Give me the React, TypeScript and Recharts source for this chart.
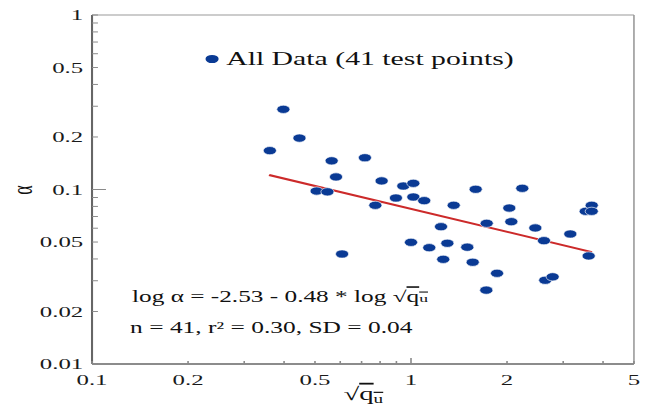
import React from "react";
import { ScatterChart, Scatter, XAxis, YAxis, ReferenceLine } from "recharts";

// Measured data: sqrt(q_u) vs alpha (log-log)
const sqrtQu = [
  0.361, 0.398, 0.447, 0.506, 0.547, 0.564, 0.582, 0.608, 0.717, 0.773,
  0.809, 0.897, 0.946, 1.0, 1.017, 1.017, 1.1, 1.141, 1.242, 1.262,
  1.3, 1.361, 1.501, 1.561, 1.595, 1.722, 1.727, 1.861, 2.033, 2.063,
  2.233, 2.453, 2.611, 2.636, 2.78, 3.158, 3.53, 3.606, 3.686, 3.686,
];
const alpha = [
  0.167, 0.288, 0.197, 0.098, 0.097, 0.146, 0.118, 0.0427, 0.152, 0.0812,
  0.112, 0.0894, 0.1047, 0.0498, 0.1085, 0.0906, 0.0863, 0.0464, 0.0612, 0.0398,
  0.0492, 0.0812, 0.0467, 0.0383, 0.1003, 0.0265, 0.064, 0.0331, 0.0783, 0.0654,
  0.1016, 0.0602, 0.0509, 0.0302, 0.0316, 0.0556, 0.075, 0.0416, 0.0812, 0.075,
];

// Fitted trend line end points
const fitX = [0.359, 3.69];
const fitY = [0.121, 0.0438];

const xTicks = [0.1, 0.2, 0.3, 0.4, 0.5, 0.6, 0.7, 0.8, 0.9, 1, 2, 3, 4, 5];
const xLabels = [0.1, 0.2, 0.5, 1, 2, 5];
const yTicks = [
  0.01, 0.02, 0.03, 0.04, 0.05, 0.06, 0.07, 0.08, 0.09,
  0.1, 0.2, 0.3, 0.4, 0.5, 0.6, 0.7, 0.8, 0.9, 1,
];
const yLabels = [0.01, 0.02, 0.05, 0.1, 0.2, 0.5, 1];

const points = sqrtQu.map((x, i) => ({ x, y: alpha[i] }));

const W = 403;
const H = 414;
const STRETCH = 645 / W;
const PL = 57.5;
const PT = 15;
const PB = 364;
const FONT = "'Liberation Serif', 'Times New Roman', serif";
const DOT = "#0a3a94";

const YTick = (props: any) => {
  const { y, payload } = props;
  const v = payload.value;
  const len = v === 0.1 ? 8.7 : 3.7;
  return (
    <g>
      <line x1={PL} x2={PL + len} y1={y} y2={y} stroke="#8a8a8a" strokeWidth={1} />
      {yLabels.includes(v) && (
        <text x={52} y={y} dy="0.35em" textAnchor="end" fontFamily={FONT} fontSize={15.5} fill="#1a1a1a">
          {String(v)}
        </text>
      )}
    </g>
  );
};

const XTick = (props: any) => {
  const { x, payload } = props;
  const v = payload.value;
  const len = v === 1 ? 6 : 3;
  return (
    <g>
      <line x1={x} x2={x} y1={PB} y2={PB - len} stroke="#8a8a8a" strokeWidth={1} />
      {xLabels.includes(v) && (
        <text x={x} y={385} textAnchor="middle" fontFamily={FONT} fontSize={15.5} fill="#1a1a1a">
          {String(v)}
        </text>
      )}
    </g>
  );
};

const Dot = (props: any) => {
  const { cx, cy } = props;
  return <circle cx={cx} cy={cy} r={4.1} fill={DOT} stroke="#ffffff" strokeWidth={0.5} />;
};

export default function App() {
  return (
    <div
      style={{
        position: "absolute",
        left: 0,
        top: 0,
        width: W,
        height: H,
        transform: `scaleX(${STRETCH})`,
        transformOrigin: "0 0",
        background: "#fff",
      }}
    >
      <ScatterChart width={W} height={H} margin={{ top: PT, right: 6.9, bottom: 0, left: 0 }}>
        <XAxis
          type="number"
          dataKey="x"
          scale="log"
          domain={[0.1, 5]}
          ticks={xTicks}
          allowDataOverflow
          interval={0}
          tick={<XTick />}
          tickLine={false}
          axisLine={{ stroke: "#666", strokeWidth: 1.6 }}
          height={H - PB}
        />
        <YAxis
          type="number"
          dataKey="y"
          scale="log"
          domain={[0.01, 1]}
          ticks={yTicks}
          allowDataOverflow
          interval={0}
          tick={<YTick />}
          tickLine={false}
          axisLine={{ stroke: "#666", strokeWidth: 1.3 }}
          width={PL}
        />
        <ReferenceLine y={1} stroke="#9a9a9a" strokeWidth={1.2} />
        <ReferenceLine x={5} stroke="#9a9a9a" strokeWidth={1} />
        <ReferenceLine
          segment={[
            { x: fitX[0], y: fitY[0] },
            { x: fitX[1], y: fitY[1] },
          ]}
          stroke="#cc2a2a"
          strokeWidth={2}
        />
        <Scatter data={points} shape={<Dot />} isAnimationActive={false} />

        {/* legend */}
        <circle cx={132.5} cy={59} r={4.1} fill={DOT} />
        <text x={141.3} y={65} fontFamily={FONT} fontSize={18.6} fill="#111">
          All Data (41 test points)
        </text>

        {/* regression summary */}
        <text x={82.5} y={302} fontFamily={FONT} fontSize={15.8} fill="#111">
          <tspan>{"log \u03b1 = -2.53 - 0.48 * log \u221a"}</tspan>
          <tspan style={{ textDecoration: "overline" }}>
            q<tspan fontSize={11}>u</tspan>
          </tspan>
        </text>
        <text x={81.3} y={333} fontFamily={FONT} fontSize={15.9} fill="#111">
          {"n = 41, r\u00b2 = 0.30, SD = 0.04"}
        </text>

        {/* axis titles */}
        <text
          x={14}
          y={190}
          transform="rotate(-90 14 190)"
          textAnchor="middle"
          dy="0.35em"
          fontFamily={FONT}
          fontSize={18}
          fill="#111"
        >
          {"\u03b1"}
        </text>
        <text x={227} y={400} textAnchor="middle" fontFamily={FONT} fontSize={18} fill="#111">
          <tspan>{"\u221a"}</tspan>
          <tspan style={{ textDecoration: "overline" }}>
            q<tspan fontSize={12} dy={3}>u</tspan>
          </tspan>
        </text>
      </ScatterChart>
    </div>
  );
}
